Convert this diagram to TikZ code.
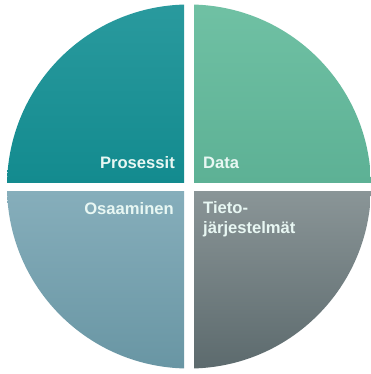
\documentclass[tikz,border=0pt]{standalone}
\usepackage{fontspec}
\setmainfont{Liberation Sans}
\begin{document}
\begin{tikzpicture}[x=1pt,y=1pt,
  lbl/.style={inner sep=0pt, text=txtc, font=\bfseries\fontsize{16.6}{20}\selectfont}]
\definecolor{txtc}{HTML}{E8F7F3}
\definecolor{tlA}{HTML}{2A9A9E}
\definecolor{tlB}{HTML}{138B8F}
\definecolor{trA}{HTML}{70C1A4}
\definecolor{trB}{HTML}{5DB195}
\definecolor{blA}{HTML}{86AEBB}
\definecolor{blB}{HTML}{6895A3}
\definecolor{brA}{HTML}{8A9597}
\definecolor{brB}{HTML}{5B696C}
\useasboundingbox (0,0) rectangle (371,-374);
\fill[white] (0,0) rectangle (371,-374);
\begin{scope}
  \clip (189,-186.5) circle (182);
  \shade[top color=tlA, bottom color=tlB] (0,0) rectangle (184,-182);
  \shade[top color=trA, bottom color=trB] (194,0) rectangle (371,-182);
  \shade[top color=blA, bottom color=blB] (0,-191) rectangle (184,-374);
  \shade[top color=brA, bottom color=brB] (194,-191) rectangle (371,-374);
\end{scope}
\node[lbl, anchor=base east] (pros) at (175,-168) {Prosessit};
\node[lbl, anchor=base west] (data) at (203,-168) {Data};
\node[lbl, anchor=base east] (osaa) at (174,-214) {Osaaminen};
\node[lbl, anchor=base west] (tieto) at (203,-213) {Tieto-};
\node[lbl, anchor=base west] (jarj) at (203,-233) {järjestelmät};
\end{tikzpicture}
\end{document}
